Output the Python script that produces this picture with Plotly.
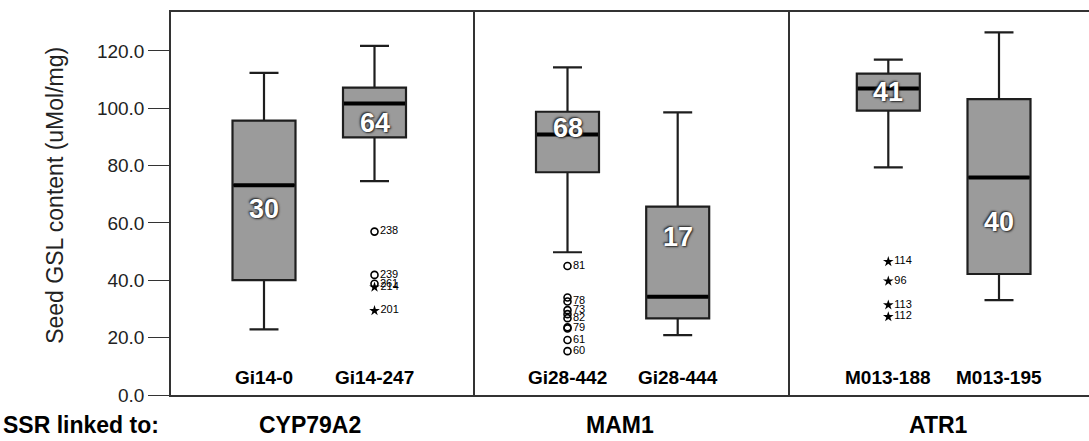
import plotly.graph_objects as go

# ---------------- data ----------------
groups = ["Gi14-0", "Gi14-247", "Gi28-442", "Gi28-444", "M013-188", "M013-195"]
lower_whisker = [22.9, 74.6, 49.8, 20.9, 79.4, 33.1]
q1_vals = [40.1, 89.9, 77.7, 26.7, 99.2, 42.2]
medians = [73.2, 101.7, 90.9, 34.3, 106.9, 75.9]
q3_vals = [95.7, 107.2, 98.8, 65.7, 112.1, 103.2]
upper_whisker = [112.4, 121.8, 114.3, 98.6, 117.0, 126.5]
n_counts = ["30", "64", "68", "17", "41", "40"]

linked_genes = ["CYP79A2", "MAM1", "ATR1"]

# outliers: group, value, case id, symbol kind
outlier_group = ["Gi14-247"] * 5 + ["Gi28-442"] * 10 + ["M013-188"] * 4
outlier_value = [57.0, 41.9, 38.8, 37.6, 29.4,
                 45.0, 34.0, 32.6, 29.6, 28.2, 26.8, 23.6, 23.2, 19.2, 15.3,
                 46.5, 39.7, 31.4, 27.3]
outlier_id = ["238", "239", "261", "214", "201",
              "81", "", "78", "73", "", "82", "", "79", "61", "60",
              "114", "96", "113", "112"]
outlier_kind = ["o", "o", "o", "*", "*",
                "o", "o", "o", "o", "o", "o", "o", "o", "o", "o",
                "*", "*", "*", "*"]

y_ticks = [0, 20, 40, 60, 80, 100, 120]
y_tick_text = ["0.0", "20.0", "40.0", "60.0", "80.0", "100.0", "120.0"]

# ---------------- layout constants ----------------
W, H = 1089, 441
L, T, B = 171, 12, 46
centers = [264, 374.5, 567.5, 677.7, 888.3, 999]
box_w = 63
dividers = [474, 789]
gene_x = [310, 620, 938]
n_label_y = [65, 95, 93, 55, 105.7, 60.4]
pos = dict(zip(groups, centers))
FONT = "Liberation Sans, Arial, sans-serif"

fig = go.Figure()

fig.add_trace(go.Box(
    x=centers, q1=q1_vals, median=medians, q3=q3_vals,
    lowerfence=lower_whisker, upperfence=upper_whisker,
    width=box_w, whiskerwidth=0.46,
    fillcolor="#9b9b9b", line=dict(color="#1e1e1e", width=2.2),
    boxpoints=False, showlegend=False, hoverinfo="skip",
))

# thick median lines
for c, m in zip(centers, medians):
    fig.add_trace(go.Scatter(
        x=[c - box_w / 2 + 1, c + box_w / 2 - 1], y=[m, m], mode="lines",
        line=dict(color="black", width=4), showlegend=False, hoverinfo="skip"))

# outliers
sym_map = {"o": "circle-open", "*": "star"}
for kind in ["o", "*"]:
    xs, ys, ts = [], [], []
    for g, v, i, k in zip(outlier_group, outlier_value, outlier_id, outlier_kind):
        if k == kind:
            xs.append(pos[g]); ys.append(v); ts.append(i)
    fig.add_trace(go.Scatter(
        x=xs, y=ys, mode="markers+text", text=ts, textposition="middle right",
        textfont=dict(family=FONT, size=11, color="black"),
        marker=dict(symbol=sym_map[kind], size=7 if kind == "o" else 8,
                    color="black", line=dict(color="black", width=1.6 if kind == "o" else 0)),
        showlegend=False, hoverinfo="skip"))

annotations = []
# n counts in boxes
for c, y, n in zip(centers, n_label_y, n_counts):
    annotations.append(dict(
        x=c, y=y, xref="x", yref="y", text=f"<b>{n}</b>", showarrow=False,
        font=dict(family=FONT, size=27, color="white",
                  shadow="1px 1px 2px #222, -1px -1px 2px #222")))
# category labels inside bottom
for c, g in zip(centers, groups):
    annotations.append(dict(
        x=c, y=0, xref="x", yref="y", yanchor="bottom", yshift=5,
        text=f"<b>{g}</b>", showarrow=False,
        font=dict(family=FONT, size=19, color="black")))
# gene labels below
for gx, gname in zip(gene_x, linked_genes):
    annotations.append(dict(
        x=gx, y=0, xref="x", yref="y", yanchor="middle", yshift=-30,
        text=f"<b>{gname}</b>", showarrow=False,
        font=dict(family=FONT, size=23, color="black")))
annotations.append(dict(
    x=(1 - L) / (W - L), y=0, xref="paper", yref="y", xanchor="left",
    yanchor="middle", yshift=-30, text="<b>SSR linked to:</b>", showarrow=False,
    font=dict(family=FONT, size=23, color="black")))
# y axis title
annotations.append(dict(
    x=(40 - L) / (W - L), y=0.52, xref="paper", yref="paper",
    text="Seed GSL content (uMol/mg)", textangle=-90, showarrow=False,
    font=dict(family=FONT, size=23, color="#222")))

shapes = [dict(type="line", xref="x", yref="paper", x0=d, x1=d, y0=0, y1=1,
               line=dict(color="#333", width=2)) for d in dividers]

fig.update_layout(
    width=W, height=H, margin=dict(l=L, r=0, t=T, b=B),
    paper_bgcolor="white", plot_bgcolor="white",
    annotations=annotations, shapes=shapes,
    xaxis=dict(range=[L, W], showticklabels=False, ticks="", showgrid=False,
               zeroline=False, showline=True, mirror=True,
               linecolor="#333", linewidth=2),
    yaxis=dict(range=[0, 133.6], tickvals=y_ticks, ticktext=y_tick_text,
               ticks="outside", ticklen=21, tickcolor="#333", tickwidth=1,
               tickfont=dict(family=FONT, size=19, color="#222"),
               showgrid=False, zeroline=False, showline=True, mirror=False,
               linecolor="#333", linewidth=1.5),
)

fig.write_html("out.html", config={"displayModeBar": False},
               post_script="document.body.style.margin='0';document.body.style.overflow='hidden';")
